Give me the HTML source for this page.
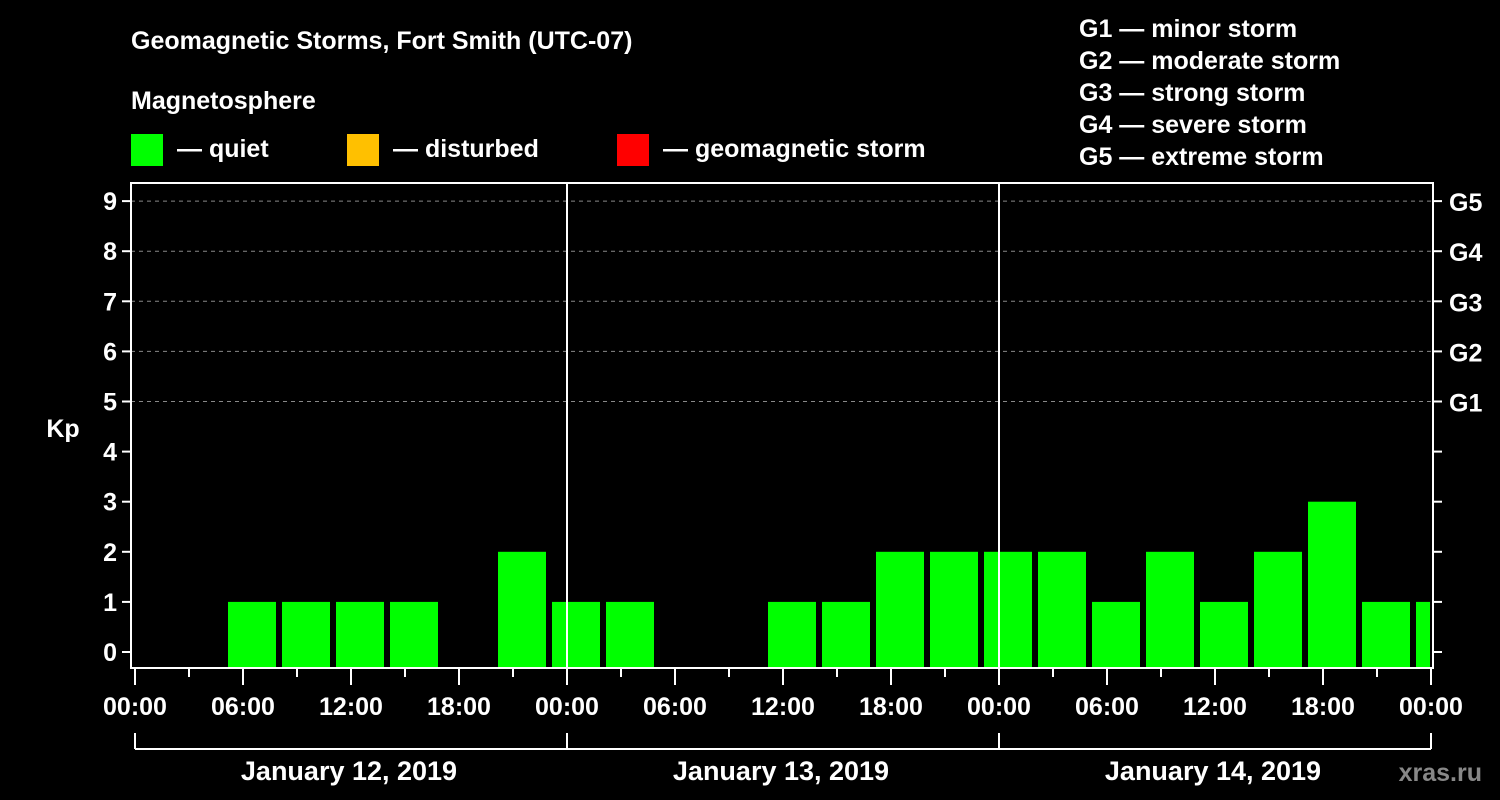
<!DOCTYPE html>
<html><head><meta charset="utf-8"><style>
html,body{margin:0;padding:0;background:#000;}
svg{display:block;font-family:"Liberation Sans",Arial,sans-serif;font-weight:bold;}
</style></head><body>
<svg id="chart" width="1500" height="800" viewBox="0 0 1500 800" xmlns="http://www.w3.org/2000/svg">
<rect width="1500" height="800" fill="#000"/>
<text x="131" y="49" fill="#fff" font-size="25">Geomagnetic Storms, Fort Smith (UTC-07)</text>
<text x="131" y="109" fill="#fff" font-size="25">Magnetosphere</text>
<g><rect x="131" y="134" width="32" height="32" fill="#00ff00"/><text x="177" y="157" fill="#fff" font-size="25">— quiet</text></g>
<g><rect x="347" y="134" width="32" height="32" fill="#ffc000"/><text x="393" y="157" fill="#fff" font-size="25">— disturbed</text></g>
<g><rect x="617" y="134" width="32" height="32" fill="#ff0000"/><text x="663" y="157" fill="#fff" font-size="25">— geomagnetic storm</text></g>
<g fill="#fff" font-size="25">
<text x="1079" y="37">G1 — minor storm</text>
<text x="1079" y="69">G2 — moderate storm</text>
<text x="1079" y="101">G3 — strong storm</text>
<text x="1079" y="133">G4 — severe storm</text>
<text x="1079" y="165">G5 — extreme storm</text>
</g>
<text x="63" y="437" fill="#fff" font-size="25" text-anchor="middle">Kp</text>
<text x="1482" y="781" fill="#888" font-size="25" text-anchor="end">xras.ru</text>
<g id="grid"></g>
<g id="bars"></g>
<g id="axes"></g>
</svg>
<script>
const kpValues = [0,0,1,1,1,1,0,2, 1,1,0,0,1,1,2,2, 2,2,1,2,1,2,3,1, 1];
const yTicks = [0,1,2,3,4,5,6,7,8,9];
const gLabels = ["","","","","","G1","G2","G3","G4","G5"];
const xTickLabels = ["00:00","06:00","12:00","18:00","00:00","06:00","12:00","18:00","00:00","06:00","12:00","18:00","00:00"];
const dayLabels = ["January 12, 2019","January 13, 2019","January 14, 2019"];

const NS="http://www.w3.org/2000/svg";
const L=131,R=1433,T=183,B=668;
const x0=135, pxPerHour=18;
function xs(h){return x0+h*pxPerHour;}
function ys(v){return 652-v*50.1;}
function mk(tag,attrs,parent){const e=document.createElementNS(NS,tag);for(const k in attrs)e.setAttribute(k,attrs[k]);parent.appendChild(e);return e;}
const grid=document.getElementById('grid'),bars=document.getElementById('bars'),axes=document.getElementById('axes');

yTicks.forEach((v,i)=>{
  if(v>=5){const g=mk('line',{x1:L,x2:R,y1:ys(v),y2:ys(v),stroke:'#888','stroke-width':1,'stroke-dasharray':'4,4'},grid);
  
  }
  const t=mk('line',{x1:L-9,x2:L,y1:ys(v),y2:ys(v),stroke:'#fff','stroke-width':2},axes);
  
  
  const t2=mk('line',{x1:R,x2:R+9,y1:ys(v),y2:ys(v),stroke:'#fff','stroke-width':2},axes);
  
  
  const lb=mk('text',{x:L-14,y:ys(v)+9,fill:'#fff','font-size':25,'text-anchor':'end'},axes);lb.textContent=v;
  
  
  if(gLabels[i]){const g=mk('text',{x:R+16,y:ys(v)+10,fill:'#fff','font-size':25},axes);g.textContent=gLabels[i];
  
  }
});

const clip=mk('clipPath',{id:'pc'},document.getElementById('chart'));mk('rect',{x:L,y:T,width:R-L-3,height:B-T},clip);
bars.setAttribute('clip-path','url(#pc)');
kpValues.forEach((v,i)=>{
  if(v<=0)return;
  const col=v>=5?'#ff0000':(v>=4?'#ffc000':'#00ff00');
  const b=mk('rect',{x:xs(3*i)-15,y:ys(v),width:48,height:B-ys(v),fill:col},bars);
  
  
});

// day separators
[1,2].forEach(d=>{const l=mk('line',{x1:xs(24*d),x2:xs(24*d),y1:T,y2:B,stroke:'#fff','stroke-width':2},axes);
 
 });
const frame=mk('rect',{x:L,y:T,width:R-L,height:B-T,fill:'none',stroke:'#fff','stroke-width':2},axes);



for(let h=0;h<=72;h+=3){
  const major=h%6===0;
  const t=mk('line',{x1:xs(h),x2:xs(h),y1:B,y2:B+(major?17:9),stroke:'#fff','stroke-width':2},axes);
  
  
  if(major){const lb=mk('text',{x:xs(h),y:715,fill:'#fff','font-size':25,'text-anchor':'middle'},axes);lb.textContent=xTickLabels[h/6];
   
   }
}
const br=mk('line',{x1:xs(0),x2:xs(72),y1:749,y2:749,stroke:'#fff','stroke-width':2},axes);


for(let d=0;d<=3;d++){const t=mk('line',{x1:xs(24*d),x2:xs(24*d),y1:733,y2:749,stroke:'#fff','stroke-width':2},axes);
 
 }
dayLabels.forEach((s,d)=>{const lb=mk('text',{x:xs(24*d+12)-2,y:780,fill:'#fff','font-size':27,'text-anchor':'middle'},axes);lb.textContent=s;
 
 });
</script>
</body></html>
